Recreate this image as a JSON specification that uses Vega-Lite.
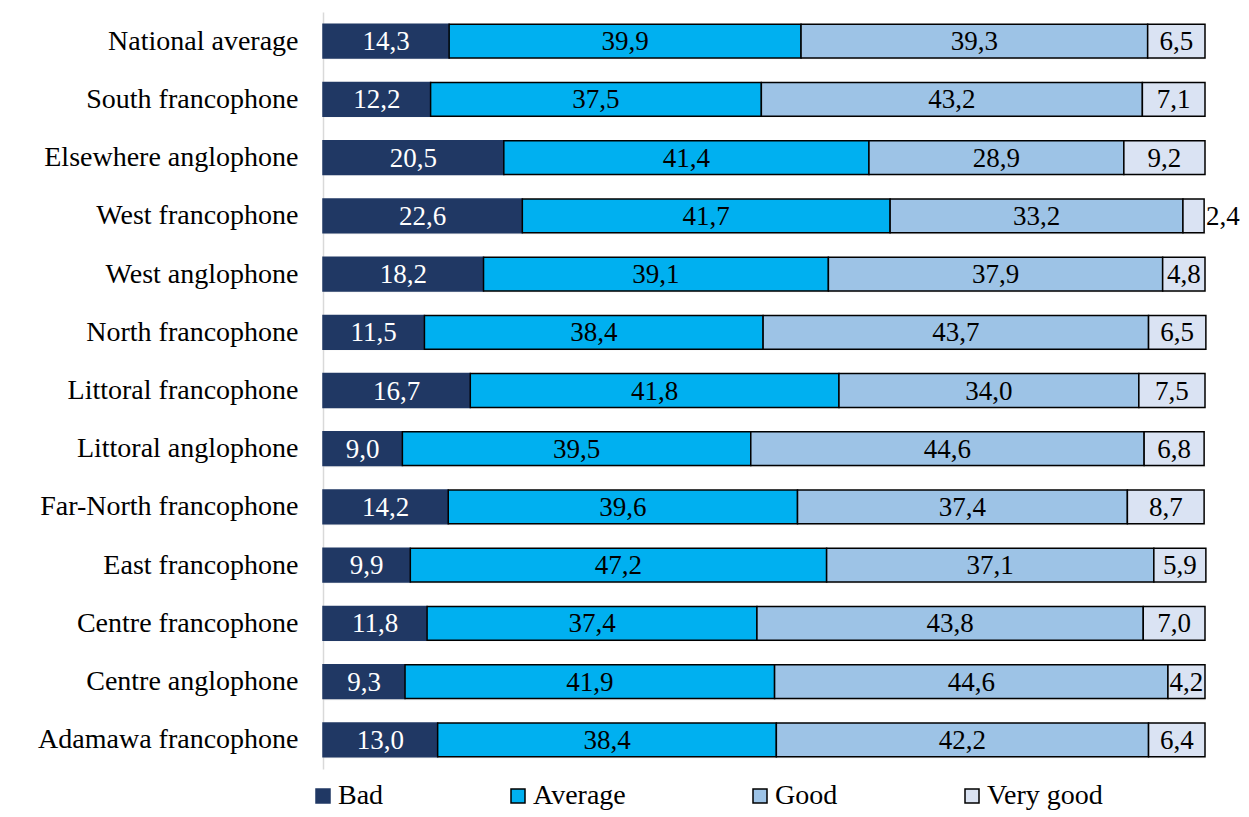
{
  "$schema": "https://vega.github.io/schema/vega-lite/v6.json",
  "autosize": "none",
  "width": 882,
  "height": 757,
  "padding": {"left": 323, "top": 12, "right": 44, "bottom": 48},
  "background": "white",
  "config": {
    "locale": {"number": {"decimal": ",", "thousands": " ", "grouping": [3], "currency": ["", ""]}},
    "view": {"stroke": null},
    "font": "Liberation Serif"
  },
  "data": {
    "values": [
      {"region": "National average", "level": "Bad", "value": 14.3},
      {"region": "National average", "level": "Average", "value": 39.9},
      {"region": "National average", "level": "Good", "value": 39.3},
      {"region": "National average", "level": "Very good", "value": 6.5},
      {"region": "South francophone", "level": "Bad", "value": 12.2},
      {"region": "South francophone", "level": "Average", "value": 37.5},
      {"region": "South francophone", "level": "Good", "value": 43.2},
      {"region": "South francophone", "level": "Very good", "value": 7.1},
      {"region": "Elsewhere anglophone", "level": "Bad", "value": 20.5},
      {"region": "Elsewhere anglophone", "level": "Average", "value": 41.4},
      {"region": "Elsewhere anglophone", "level": "Good", "value": 28.9},
      {"region": "Elsewhere anglophone", "level": "Very good", "value": 9.2},
      {"region": "West francophone", "level": "Bad", "value": 22.6},
      {"region": "West francophone", "level": "Average", "value": 41.7},
      {"region": "West francophone", "level": "Good", "value": 33.2},
      {"region": "West francophone", "level": "Very good", "value": 2.4},
      {"region": "West anglophone", "level": "Bad", "value": 18.2},
      {"region": "West anglophone", "level": "Average", "value": 39.1},
      {"region": "West anglophone", "level": "Good", "value": 37.9},
      {"region": "West anglophone", "level": "Very good", "value": 4.8},
      {"region": "North francophone", "level": "Bad", "value": 11.5},
      {"region": "North francophone", "level": "Average", "value": 38.4},
      {"region": "North francophone", "level": "Good", "value": 43.7},
      {"region": "North francophone", "level": "Very good", "value": 6.5},
      {"region": "Littoral francophone", "level": "Bad", "value": 16.7},
      {"region": "Littoral francophone", "level": "Average", "value": 41.8},
      {"region": "Littoral francophone", "level": "Good", "value": 34.0},
      {"region": "Littoral francophone", "level": "Very good", "value": 7.5},
      {"region": "Littoral anglophone", "level": "Bad", "value": 9.0},
      {"region": "Littoral anglophone", "level": "Average", "value": 39.5},
      {"region": "Littoral anglophone", "level": "Good", "value": 44.6},
      {"region": "Littoral anglophone", "level": "Very good", "value": 6.8},
      {"region": "Far-North francophone", "level": "Bad", "value": 14.2},
      {"region": "Far-North francophone", "level": "Average", "value": 39.6},
      {"region": "Far-North francophone", "level": "Good", "value": 37.4},
      {"region": "Far-North francophone", "level": "Very good", "value": 8.7},
      {"region": "East francophone", "level": "Bad", "value": 9.9},
      {"region": "East francophone", "level": "Average", "value": 47.2},
      {"region": "East francophone", "level": "Good", "value": 37.1},
      {"region": "East francophone", "level": "Very good", "value": 5.9},
      {"region": "Centre francophone", "level": "Bad", "value": 11.8},
      {"region": "Centre francophone", "level": "Average", "value": 37.4},
      {"region": "Centre francophone", "level": "Good", "value": 43.8},
      {"region": "Centre francophone", "level": "Very good", "value": 7.0},
      {"region": "Centre anglophone", "level": "Bad", "value": 9.3},
      {"region": "Centre anglophone", "level": "Average", "value": 41.9},
      {"region": "Centre anglophone", "level": "Good", "value": 44.6},
      {"region": "Centre anglophone", "level": "Very good", "value": 4.2},
      {"region": "Adamawa francophone", "level": "Bad", "value": 13.0},
      {"region": "Adamawa francophone", "level": "Average", "value": 38.4},
      {"region": "Adamawa francophone", "level": "Good", "value": 42.2},
      {"region": "Adamawa francophone", "level": "Very good", "value": 6.4}
    ]
  },
  "transform": [
    {"calculate": "indexof(['Bad','Average','Good','Very good'], datum.level)", "as": "ord"},
    {"stack": "value", "groupby": ["region"], "sort": [{"field": "ord", "order": "ascending"}], "as": ["v0", "v1"]},
    {"calculate": "(datum.v0 + datum.v1) / 2", "as": "mid"}
  ],
  "encoding": {
    "y": {
      "field": "region",
      "type": "nominal",
      "sort": ["National average", "South francophone", "Elsewhere anglophone", "West francophone", "West anglophone", "North francophone", "Littoral francophone", "Littoral anglophone", "Far-North francophone", "East francophone", "Centre francophone", "Centre anglophone", "Adamawa francophone"],
      "scale": {"paddingInner": 0.42, "paddingOuter": 0.21},
      "axis": {
        "title": null,
        "ticks": false,
        "grid": true,
        "tickBand": "extent",
        "gridColor": "#EBEBEB",
        "gridWidth": 1.5,
        "domainColor": "#D9D9D9",
        "domainWidth": 1.5,
        "labelFont": "Liberation Serif",
        "labelFontSize": 28,
        "labelColor": "black",
        "labelPadding": 25,
        "labelLimit": 400
      }
    }
  },
  "layer": [
    {
      "mark": {"type": "bar", "strokeWidth": 1.5, "cornerRadius": 0},
      "encoding": {
        "x": {"field": "v0", "type": "quantitative", "scale": {"domain": [0, 100], "nice": false}, "axis": null},
        "x2": {"field": "v1"},
        "fill": {
          "field": "level",
          "type": "nominal",
          "sort": ["Bad", "Average", "Good", "Very good"],
          "scale": {"domain": ["Bad", "Average", "Good", "Very good"], "range": ["#203864", "#00B0F0", "#9DC3E6", "#DAE3F3"]},
          "legend": {
            "title": null,
            "orient": "none",
            "direction": "horizontal",
            "legendX": -14,
            "legendY": 770,
            "padding": 0,
            "symbolType": "square",
            "symbolSize": 196,
            "symbolStrokeWidth": 1.5,
            "labelFont": "Liberation Serif",
            "labelFontSize": 28,
            "labelColor": "black",
            "labelOffset": 1,
            "columnPadding": 120,
            "labelLimit": 300
          }
        },
        "stroke": {
          "field": "level",
          "type": "nominal",
          "sort": ["Bad", "Average", "Good", "Very good"],
          "scale": {"domain": ["Bad", "Average", "Good", "Very good"], "range": ["#203864", "#000000", "#000000", "#000000"]}
        }
      }
    },
    {
      "transform": [{"filter": "datum.value >= 3"}],
      "mark": {"type": "text", "font": "Liberation Serif", "fontSize": 27, "align": "center", "baseline": "middle", "dy": 1},
      "encoding": {
        "x": {"field": "mid", "type": "quantitative"},
        "text": {"field": "value", "type": "quantitative", "format": ".1f"},
        "color": {"condition": {"test": "datum.level === 'Bad'", "value": "white"}, "value": "black"}
      }
    },
    {
      "transform": [{"filter": "datum.value < 3"}],
      "mark": {"type": "text", "font": "Liberation Serif", "fontSize": 27, "align": "left", "baseline": "middle", "dx": 2, "dy": 1, "color": "black"},
      "encoding": {
        "x": {"field": "v1", "type": "quantitative"},
        "text": {"field": "value", "type": "quantitative", "format": ".1f"}
      }
    }
  ]
}
